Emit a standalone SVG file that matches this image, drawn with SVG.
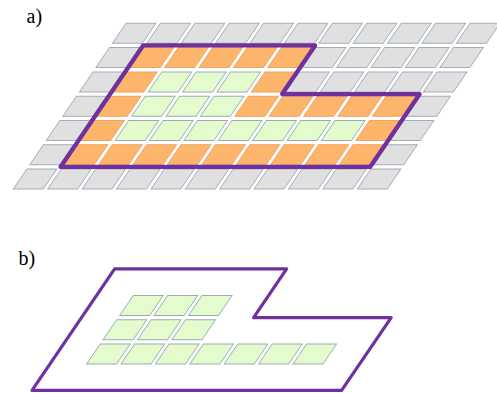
<svg xmlns="http://www.w3.org/2000/svg" xmlns:xlink="http://www.w3.org/1999/xlink" width="497" height="393" viewBox="0 0 497 393">
<style>
.g{fill:#e0e0e0;stroke:#a3acb9;stroke-width:1}
.o{fill:#fdb56b;stroke:#eea360;stroke-width:1}
.v{fill:#e4fbce;stroke:#9aacb2;stroke-width:1}
.g,.o,.v{vector-effect:non-scaling-stroke}
.line{fill:none;stroke:#7030a0;stroke-linejoin:round;vector-effect:non-scaling-stroke}
.lbl{font-family:"Liberation Serif","Times New Roman",serif;font-size:20px;fill:#000}
</style>
<defs>
<rect id="c" width="30" height="20"/>
</defs>
<rect width="497" height="393" fill="#fff"/>
<text class="lbl" x="26.5" y="23">a)</text>
<text class="lbl" x="18.5" y="264.5">b)</text>
<g id="gridA" transform="matrix(1 0 -0.68 1 126 23.3)">
<!-- row 0 -->
<use xlink:href="#c" class="g" x="0" y="0"/><use xlink:href="#c" class="g" x="34.4" y="0"/><use xlink:href="#c" class="g" x="68.8" y="0"/><use xlink:href="#c" class="g" x="103.2" y="0"/><use xlink:href="#c" class="g" x="137.6" y="0"/><use xlink:href="#c" class="g" x="172" y="0"/><use xlink:href="#c" class="g" x="206.4" y="0"/><use xlink:href="#c" class="g" x="240.8" y="0"/><use xlink:href="#c" class="g" x="275.2" y="0"/><use xlink:href="#c" class="g" x="309.6" y="0"/><use xlink:href="#c" class="g" x="344" y="0"/>
<!-- row 1 -->
<use xlink:href="#c" class="g" x="0" y="24.3"/><use xlink:href="#c" class="o" x="34.4" y="24.3"/><use xlink:href="#c" class="o" x="68.8" y="24.3"/><use xlink:href="#c" class="o" x="103.2" y="24.3"/><use xlink:href="#c" class="o" x="137.6" y="24.3"/><use xlink:href="#c" class="o" x="172" y="24.3"/><use xlink:href="#c" class="g" x="206.4" y="24.3"/><use xlink:href="#c" class="g" x="240.8" y="24.3"/><use xlink:href="#c" class="g" x="275.2" y="24.3"/><use xlink:href="#c" class="g" x="309.6" y="24.3"/><use xlink:href="#c" class="g" x="344" y="24.3"/>
<!-- row 2 -->
<use xlink:href="#c" class="g" x="0" y="48.6"/><use xlink:href="#c" class="o" x="34.4" y="48.6"/><use xlink:href="#c" class="v" x="68.8" y="48.6"/><use xlink:href="#c" class="v" x="103.2" y="48.6"/><use xlink:href="#c" class="v" x="137.6" y="48.6"/><use xlink:href="#c" class="o" x="172" y="48.6"/><use xlink:href="#c" class="g" x="206.4" y="48.6"/><use xlink:href="#c" class="g" x="240.8" y="48.6"/><use xlink:href="#c" class="g" x="275.2" y="48.6"/><use xlink:href="#c" class="g" x="309.6" y="48.6"/><use xlink:href="#c" class="g" x="344" y="48.6"/>
<!-- row 3 -->
<use xlink:href="#c" class="g" x="0" y="72.9"/><use xlink:href="#c" class="o" x="34.4" y="72.9"/><use xlink:href="#c" class="v" x="68.8" y="72.9"/><use xlink:href="#c" class="v" x="103.2" y="72.9"/><use xlink:href="#c" class="v" x="137.6" y="72.9"/><use xlink:href="#c" class="o" x="172" y="72.9"/><use xlink:href="#c" class="o" x="206.4" y="72.9"/><use xlink:href="#c" class="o" x="240.8" y="72.9"/><use xlink:href="#c" class="o" x="275.2" y="72.9"/><use xlink:href="#c" class="o" x="309.6" y="72.9"/><use xlink:href="#c" class="g" x="344" y="72.9"/>
<!-- row 4 -->
<use xlink:href="#c" class="g" x="0" y="97.2"/><use xlink:href="#c" class="o" x="34.4" y="97.2"/><use xlink:href="#c" class="v" x="68.8" y="97.2"/><use xlink:href="#c" class="v" x="103.2" y="97.2"/><use xlink:href="#c" class="v" x="137.6" y="97.2"/><use xlink:href="#c" class="v" x="172" y="97.2"/><use xlink:href="#c" class="v" x="206.4" y="97.2"/><use xlink:href="#c" class="v" x="240.8" y="97.2"/><use xlink:href="#c" class="v" x="275.2" y="97.2"/><use xlink:href="#c" class="o" x="309.6" y="97.2"/><use xlink:href="#c" class="g" x="344" y="97.2"/>
<!-- row 5 -->
<use xlink:href="#c" class="g" x="0" y="121.5"/><use xlink:href="#c" class="o" x="34.4" y="121.5"/><use xlink:href="#c" class="o" x="68.8" y="121.5"/><use xlink:href="#c" class="o" x="103.2" y="121.5"/><use xlink:href="#c" class="o" x="137.6" y="121.5"/><use xlink:href="#c" class="o" x="172" y="121.5"/><use xlink:href="#c" class="o" x="206.4" y="121.5"/><use xlink:href="#c" class="o" x="240.8" y="121.5"/><use xlink:href="#c" class="o" x="275.2" y="121.5"/><use xlink:href="#c" class="o" x="309.6" y="121.5"/><use xlink:href="#c" class="g" x="344" y="121.5"/>
<!-- row 6 -->
<use xlink:href="#c" class="g" x="0" y="145.8"/><use xlink:href="#c" class="g" x="34.4" y="145.8"/><use xlink:href="#c" class="g" x="68.8" y="145.8"/><use xlink:href="#c" class="g" x="103.2" y="145.8"/><use xlink:href="#c" class="g" x="137.6" y="145.8"/><use xlink:href="#c" class="g" x="172" y="145.8"/><use xlink:href="#c" class="g" x="206.4" y="145.8"/><use xlink:href="#c" class="g" x="240.8" y="145.8"/><use xlink:href="#c" class="g" x="275.2" y="145.8"/><use xlink:href="#c" class="g" x="309.6" y="145.8"/><use xlink:href="#c" class="g" x="344" y="145.8"/>
<polygon id="outlineA" class="line" stroke-width="4.2" points="32.2,22.15 204.2,22.15 204.2,70.75 341.8,70.75 341.8,143.65 32.2,143.65"/>
</g>
<g id="gridB" transform="matrix(1 0 -0.68 1 97.5 246.8)">
<use xlink:href="#c" class="v" x="68.8" y="48.6"/><use xlink:href="#c" class="v" x="103.2" y="48.6"/><use xlink:href="#c" class="v" x="137.6" y="48.6"/>
<use xlink:href="#c" class="v" x="68.8" y="72.9"/><use xlink:href="#c" class="v" x="103.2" y="72.9"/><use xlink:href="#c" class="v" x="137.6" y="72.9"/>
<use xlink:href="#c" class="v" x="68.8" y="97.2"/><use xlink:href="#c" class="v" x="103.2" y="97.2"/><use xlink:href="#c" class="v" x="137.6" y="97.2"/><use xlink:href="#c" class="v" x="172" y="97.2"/><use xlink:href="#c" class="v" x="206.4" y="97.2"/><use xlink:href="#c" class="v" x="240.8" y="97.2"/><use xlink:href="#c" class="v" x="275.2" y="97.2"/>
<polygon id="outlineB" class="line" stroke-width="3.2" points="32.2,22.15 204.2,22.15 204.2,70.75 341.8,70.75 341.8,143.65 32.2,143.65"/>
</g>
</svg>
